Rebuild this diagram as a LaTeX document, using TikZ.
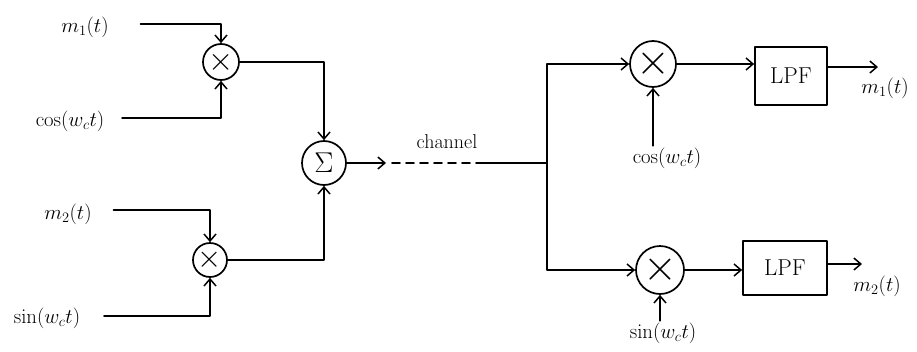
\documentclass[tikz,border=0pt]{standalone}
\usetikzlibrary{arrows.meta,calc}
\begin{document}
\begin{tikzpicture}[x=1pt,y=-1pt,
  every path/.style={line width=1.7pt,line cap=round,line join=round},
  arr/.style={-{Straight Barb[length=7pt,width=12pt,line width=1.5pt]}},
  mult/.style={circle,draw,line width=1.7pt,inner sep=0pt,font=\fontsize{24}{24}\selectfont},
  lab/.style={inner sep=1pt,font=\fontsize{22}{25}\selectfont},
  lpf/.style={draw,line width=1.7pt,inner sep=0pt,font=\fontsize{23}{25}\selectfont}]
\useasboundingbox (0,0) rectangle (917,351);
% labels (left)
\node[lab] (m1) at (85,27) {$m_1(t)$};
\node[lab] (c1) at (70,121) {$\cos(w_c t)$};
\node[lab] (m2) at (68,214) {$m_2(t)$};
\node[lab] (s1) at (47,318) {$\sin(w_c t)$};
% blocks
\node[mult,minimum size=36pt] (X1) at (221,62) {\scalebox{1.3}{$\times$}};
\node[mult,minimum size=34pt] (X2) at (210,260) {\scalebox{1.25}{$\times$}};
\node[mult,minimum size=44pt] (S) at (324,163) {\scalebox{1.15}{$\Sigma$}};
\node[inner sep=1pt,font=\fontsize{20}{22}\selectfont] (ch) at (447,142) {channel};
\coordinate (a1) at (386,163);
\coordinate (a2) at (482,163);
\coordinate (J) at (547,163);
\node[mult,minimum size=46pt] (X3) at (653,64) {\scalebox{1.75}{$\times$}};
\node[mult,minimum size=48pt] (X4) at (660,270) {\scalebox{1.75}{$\times$}};
\node[lab] (c2) at (667,158) {$\cos(w_c t)$};
\node[lab] (s2) at (663,333) {$\sin(w_c t)$};
\node[lpf,minimum width=72pt,minimum height=58pt] (L1) at (791,76) {LPF};
\node[lpf,minimum width=84pt,minimum height=54pt] (L2) at (785,268) {LPF};
\coordinate (o1) at (878,67);
\coordinate (o2) at (862,264);
\node[inner sep=1pt,font=\fontsize{21}{24}\selectfont] (mo1) at (885,88) {$m_1(t)$};
\node[inner sep=1pt,font=\fontsize{20}{22}\selectfont] (mo2) at (877,286) {$m_2(t)$};
% connectors left
\draw[arr] ($(m1.east)+(30,-3)$) -| (X1.north);
\draw[arr] ($(c1.east)+(16,-3)$) -| (X1.south);
\draw[arr] ($(m2.east)+(20,-4)$) -| (X2.north);
\draw[arr] ($(s1.east)+(22,-2)$) -| (X2.south);
\draw[arr] (X1.east) -| (S.north);
\draw[arr] (X2.east) -| (S.south);
\draw[arr] (S.east) -- (a1);
\draw[dashed,dash pattern=on 8pt off 6pt] ($(a1)+(6,0)$) -- (a2);
\draw (a2) -- (J);
% connectors right
\draw[arr] (J) |- (X3.west);
\draw[arr] (J) |- (X4.west);
\draw[arr] (X3.south |- c2.north) -- (X3.south);
\draw[arr] (X4.south |- s2.north) -- (X4.south);
\draw[arr] (X3.east) -- (X3.east -| L1.west);
\draw[arr] (X4.east) -- (X4.east -| L2.west);
\draw[arr] (L1.east |- o1) -- (o1);
\draw[arr] (L2.east |- o2) -- (o2);
\end{tikzpicture}
\end{document}
